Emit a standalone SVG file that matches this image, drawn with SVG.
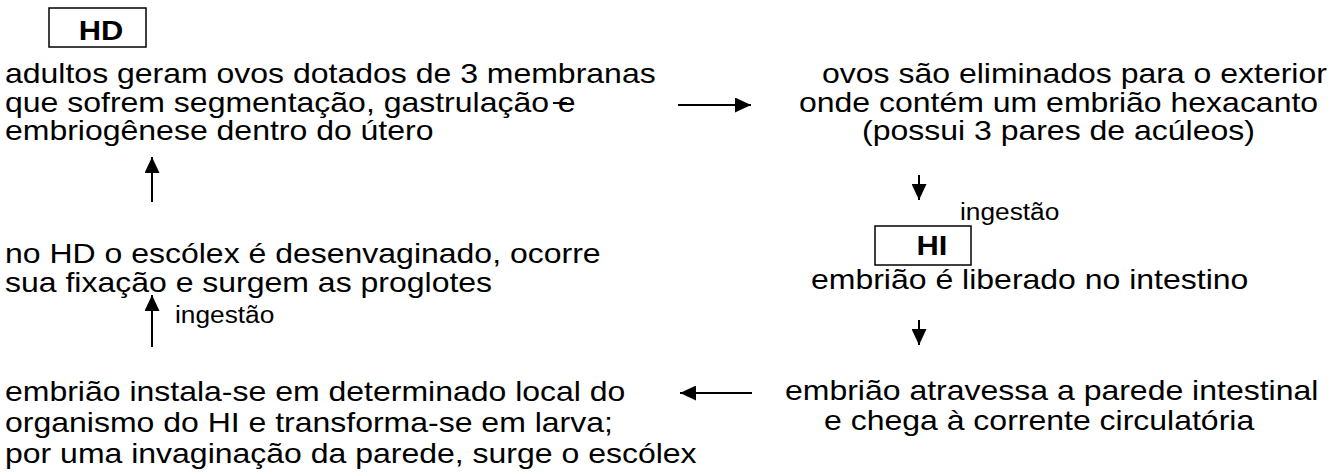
<svg xmlns="http://www.w3.org/2000/svg" width="1334" height="475" viewBox="0 0 1334 475">
<style>
text{font-family:"Liberation Sans",Arial,sans-serif;fill:#000}
.t{font-size:28px}
.s{font-size:23px}
.b{font-size:27px;font-weight:bold;text-anchor:middle}
.box{fill:#fff;stroke:#000;stroke-width:1.5}
.ln{stroke:#000;stroke-width:2;fill:none}
</style>
<defs>
<marker id="ah" markerUnits="userSpaceOnUse" markerWidth="17" markerHeight="15" refX="16" refY="7.5" orient="auto">
<path d="M0,0 L16,7.5 L0,15 Z" fill="#000"/>
</marker>
</defs>
<rect width="1334" height="475" fill="#fff"/>
<g id="hd">
<rect class="box" x="49" y="8" width="97" height="39"/>
<text class="b" transform="translate(101 40) scale(1.143 1)">HD</text>
</g>
<g id="n1">
<text class="t" transform="translate(5 83) scale(1.143 1)">adultos geram ovos dotados de 3 membranas</text>
<text class="t" transform="translate(5 112) scale(1.143 1)">que sofrem segmentação, gastrulação e</text>
<text class="t" transform="translate(5 140) scale(1.143 1)">embriogênese dentro do útero</text>
<line class="ln" x1="553" y1="103" x2="567" y2="103" stroke-width="1.5"/>
</g>
<g id="n2">
<text class="t" transform="translate(822 83) scale(1.143 1)">ovos são eliminados para o exterior</text>
<text class="t" transform="translate(799 112) scale(1.143 1)">onde contém um embrião hexacanto</text>
<text class="t" transform="translate(862 140) scale(1.143 1)">(possui 3 pares de acúleos)</text>
</g>
<g id="hi">
<rect class="box" x="875" y="226" width="96" height="39"/>
<text class="b" transform="translate(932 255) scale(1.143 1)">HI</text>
</g>
<g id="n3">
<text class="t" transform="translate(811 289) scale(1.143 1)">embrião é liberado no intestino</text>
</g>
<g id="n4">
<text class="t" transform="translate(785 400) scale(1.143 1)">embrião atravessa a parede intestinal</text>
<text class="t" transform="translate(824 430) scale(1.143 1)">e chega à corrente circulatória</text>
</g>
<g id="n5">
<text class="t" transform="translate(5 401) scale(1.143 1)">embrião instala-se em determinado local do</text>
<text class="t" transform="translate(5 432) scale(1.143 1)">organismo do HI e transforma-se em larva;</text>
<text class="t" transform="translate(5 463) scale(1.143 1)">por uma invaginação da parede, surge o escólex</text>
</g>
<g id="n6">
<text class="t" transform="translate(5 263) scale(1.143 1)">no HD o escólex é desenvaginado, ocorre</text>
<text class="t" transform="translate(5 292) scale(1.143 1)">sua fixação e surgem as proglotes</text>
</g>
<g id="connectors">
<line class="ln" x1="678" y1="105" x2="751" y2="105" marker-end="url(#ah)"/>
<line class="ln" x1="919" y1="175" x2="919" y2="200" marker-end="url(#ah)"/>
<text class="s" transform="translate(960 220) scale(1.143 1)">ingestão</text>
<line class="ln" x1="919" y1="320" x2="919" y2="345" marker-end="url(#ah)"/>
<line class="ln" x1="752" y1="393" x2="680" y2="393" marker-end="url(#ah)"/>
<line class="ln" x1="152" y1="347" x2="152" y2="295" marker-end="url(#ah)"/>
<text class="s" transform="translate(175 323) scale(1.143 1)">ingestão</text>
<line class="ln" x1="152" y1="202" x2="152" y2="157" marker-end="url(#ah)"/>
</g>
</svg>
